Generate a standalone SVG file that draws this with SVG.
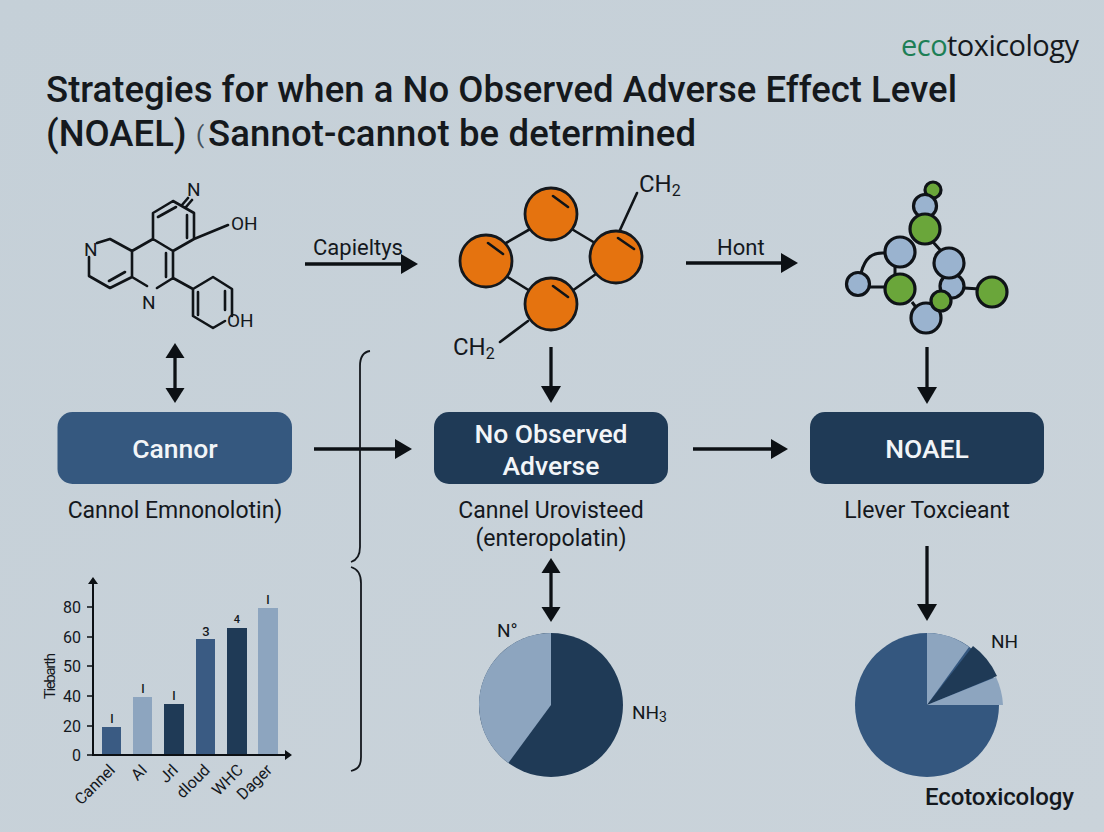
<svg xmlns="http://www.w3.org/2000/svg" width="1104" height="832" viewBox="0 0 1104 832">
<style>
text{font-family:"Roboto","Liberation Sans",sans-serif;fill:#14181d}
.t{font-size:36.5px;font-weight:500;fill:#15191d}
.s{font-size:24px}
.c{font-size:19px}
.w{font-size:26.5px;font-weight:500;fill:#f2f5f8;text-anchor:middle}
.l{font-size:23px;text-anchor:middle}
.q{font-size:22px}
.b{fill:none;stroke:#101418;stroke-width:2.6;stroke-linecap:round;stroke-linejoin:round}
.a{fill:none;stroke:#0c1014;stroke-width:3.3;marker-end:url(#ah)}
.d{fill:none;stroke:#0c1014;stroke-width:3.3;marker-end:url(#ah2);marker-start:url(#ah2s)}
.o{fill:#e5730f;stroke:#14181d;stroke-width:2.8}
.u{fill:#9ab3cf;stroke:#0f1318;stroke-width:3.2}
.g{fill:#6aa63a;stroke:#0f1318;stroke-width:3.2}
.x{font-size:16px;text-anchor:end}
.v{font-size:12px;font-weight:500;text-anchor:middle}
.r{font-size:16px;text-anchor:end}
</style>
<defs>
<marker id="ah" markerUnits="userSpaceOnUse" markerWidth="20" markerHeight="20" refX="12" refY="10" orient="auto"><path d="M0 0L17 10L0 20z" fill="#0c1014"/></marker>
<marker id="ah2" markerUnits="userSpaceOnUse" markerWidth="20" markerHeight="20" refX="10" refY="10" orient="auto"><path d="M0 0.5L15 10L0 19.5z" fill="#0c1014"/></marker>
<marker id="ah2s" markerUnits="userSpaceOnUse" markerWidth="20" markerHeight="20" refX="5" refY="10" orient="auto"><path d="M15 0.5L0 10L15 19.5z" fill="#0c1014"/></marker>
<linearGradient id="bg" x1="0" y1="0" x2="1" y2="1"><stop offset="0" stop-color="#c5d0d8"/><stop offset="1" stop-color="#cad3da"/></linearGradient>
</defs>
<rect width="1104" height="832" fill="url(#bg)"/>
<text x="901" y="56" textLength="178" style="font-family:'Open Sans','Liberation Sans',sans-serif;font-size:29px;font-weight:500"><tspan fill="#1d7f56">eco</tspan><tspan fill="#15191e">toxicology</tspan></text>
<text class="t" x="46" y="102" textLength="911">Strategies for when a No Observed Adverse Effect Level</text>
<text class="t" x="46" y="146">(NOAEL)</text>
<text x="196" y="143" style="font-size:24px;fill:#44515c">(</text>
<text class="t" x="208" y="146" textLength="488">Sannot-cannot be determined</text>

<g id="molecule-1">
<path class="b" d="M97 243L110 239L132 251V277L110 288L89 276V257M132 277L147 286M132 251L153 239L173 251V278L157 288M153 239V213L173 201L194 213V239L173 251M173 278L193 289V316L213 328L225 321M232 316V289L213 277L193 289M194 239L228 225M182 205L188 198M186 207L192 200"/>
<path class="b" d="M109 281L125 272M166 253V277M158 217L176 207M187 215V238M198 292V315M225 291V310"/>
<text class="c" x="187" y="196">N</text><text class="c" x="231" y="230">OH</text><text class="c" x="84" y="256">N</text><text class="c" x="142" y="309">N</text><text class="c" x="227" y="327">OH</text>
</g>
<g id="molecule-2">
<path class="b" d="M506 243L532 228M570 228L595 243M506 276L530 291M572 291L596 274M620 230L637 193M528 321L500 342"/>
<circle class="o" cx="551" cy="214" r="26"/><circle class="o" cx="486" cy="261" r="26"/><circle class="o" cx="616" cy="257" r="26"/><circle class="o" cx="551" cy="304" r="26"/>
<path class="b" d="M553 196L568 207M488 243L503 254M618 238L634 249M553 286L568 297" stroke-width="3"/>
<text class="s" x="639" y="192">CH<tspan font-size="16" dy="4">2</tspan></text>
<text class="s" x="453" y="355">CH<tspan font-size="16" dy="4">2</tspan></text>
</g>
<g id="molecule-3">
<path fill="none" stroke="#0f1318" stroke-width="3" d="M885 253C872 252 865 258 861 273M870 287H887M895 265V285M912 302L918 310M933 242L942 252M964 288L980 289"/>
<circle class="g" cx="933" cy="190" r="8"/><circle class="u" cx="925" cy="206" r="11.5"/><circle class="g" cx="925" cy="229" r="15"/><circle class="u" cx="900" cy="252" r="15"/><circle class="u" cx="952" cy="286" r="12"/><circle class="u" cx="949" cy="263" r="15"/><circle class="g" cx="992" cy="292" r="15"/><circle class="u" cx="926" cy="318" r="15"/><circle class="g" cx="941" cy="301" r="10"/><circle class="g" cx="900" cy="289" r="15"/><circle class="u" cx="858" cy="284" r="11.5"/>
</g>
<g id="node-canner"><rect x="57.500" y="412" width="234.500" height="72" rx="15" fill="#35587f"/><text class="w" x="175" y="458">Cannor</text><text class="l" x="175" y="518">Cannol Emnonolotin)</text></g>
<g id="node-observed"><rect x="434" y="412" width="234" height="72" rx="15" fill="#1f3a56"/><text class="w" x="551" y="443">No Observed</text><text class="w" x="551" y="475">Adverse</text><text class="l" x="551" y="518">Cannel Urovisteed</text><text class="l" x="551" y="546">(enteropolatin)</text></g>
<g id="node-noael"><rect x="810" y="412" width="234" height="72" rx="15" fill="#1f3a56"/><text class="w" x="927" y="458">NOAEL</text><text class="l" x="927" y="518">Llever Toxcieant</text></g>
<g id="connectors">
<path class="a" d="M305 264H413"/><path class="a" d="M686 263H793"/><path class="a" d="M314 449H407"/><path class="a" d="M693 449H783"/>
<path class="d" d="M175 348V398"/><path class="d" d="M551 563V617"/><path class="a" d="M551 347V398"/><path class="a" d="M927 347V399"/><path class="a" d="M927 546V616"/>
<path fill="none" stroke="#14181d" stroke-width="1.8" d="M370 351C363 352 360 357 360 366V547C360 556 357 560 351 562M351 567C358 569 361 574 361 583V757C361 766 358 769 351 771"/>
<text class="q" x="313" y="255">Capieltys</text><text class="q" x="717" y="255">Hont</text>
</g>
<g id="bar-chart">
<g fill="#3a5b83"><rect x="102" y="727" width="19" height="28"/><rect x="196" y="639" width="19" height="116"/></g>
<g fill="#8da5bf"><rect x="133" y="697" width="19" height="58"/><rect x="258" y="608" width="20" height="147"/></g>
<g fill="#1f3a56"><rect x="164" y="704" width="20" height="51"/><rect x="227" y="628" width="20" height="127"/></g>
<path fill="none" stroke="#0c1014" stroke-width="2" d="M93 581V755H288"/>
<path fill="#0c1014" d="M93 577L98 584H88zM292 755L285 750V760z"/>
<path stroke="#0c1014" stroke-width="1.6" d="M87 607H93M87 637H93M87 666H93M87 696H93M87 726H93M87 755H93"/>
<text class="x" x="81" y="613">80</text><text class="x" x="81" y="643">60</text><text class="x" x="81" y="672">50</text><text class="x" x="81" y="702">40</text><text class="x" x="81" y="732">20</text><text class="x" x="81" y="761">0</text>
<text transform="rotate(-90 55 699)" x="55" y="699" textLength="46" style="font-size:15px">Tiebarth</text>
<text class="v" x="112" y="723">I</text><text class="v" x="143" y="693">I</text><text class="v" x="174" y="700">I</text><text class="v" x="206" y="636" style="font-size:13px">3</text><text class="v" x="237" y="623" style="font-size:11px">4</text><text class="v" x="268" y="604">I</text>
<text class="r" transform="rotate(-45 116 771)" x="116" y="771">Cannel</text><text class="r" transform="rotate(-45 148 771)" x="148" y="771">AI</text><text class="r" transform="rotate(-45 179 771)" x="179" y="771">Jrl</text><text class="r" transform="rotate(-45 211 771)" x="211" y="771">dloud</text><text class="r" transform="rotate(-45 244 771)" x="244" y="771">WHC</text><text class="r" transform="rotate(-45 273 771)" x="273" y="771">Dager</text>
</g>
<g id="pie-1">
<circle cx="551" cy="705" r="72" fill="#1f3a56"/>
<path d="M551 705V633A72 72 0 0 0 508.300 763z" fill="#8da5bf"/>
<text x="497" y="637" style="font-size:19px">N°</text><text x="632" y="719" style="font-size:19px">NH<tspan font-size="14" dy="3">3</tspan></text>
</g>
<g id="pie-2">
<circle cx="927" cy="705" r="72" fill="#34577f"/>
<path d="M927 705V633A72 72 0 0 1 969 647z" fill="#8da5bf"/>
<path d="M927 705L973 646A76 76 0 0 1 997 676z" fill="#1f3a56"/>
<path d="M927 705L996 677A76 76 0 0 1 1003 705z" fill="#8da5bf"/>
<text x="991" y="648" style="font-size:19px">NH</text>
<text x="925" y="805" style="font-size:24px;font-weight:500" textLength="149">Ecotoxicology</text>
</g>
</svg>
